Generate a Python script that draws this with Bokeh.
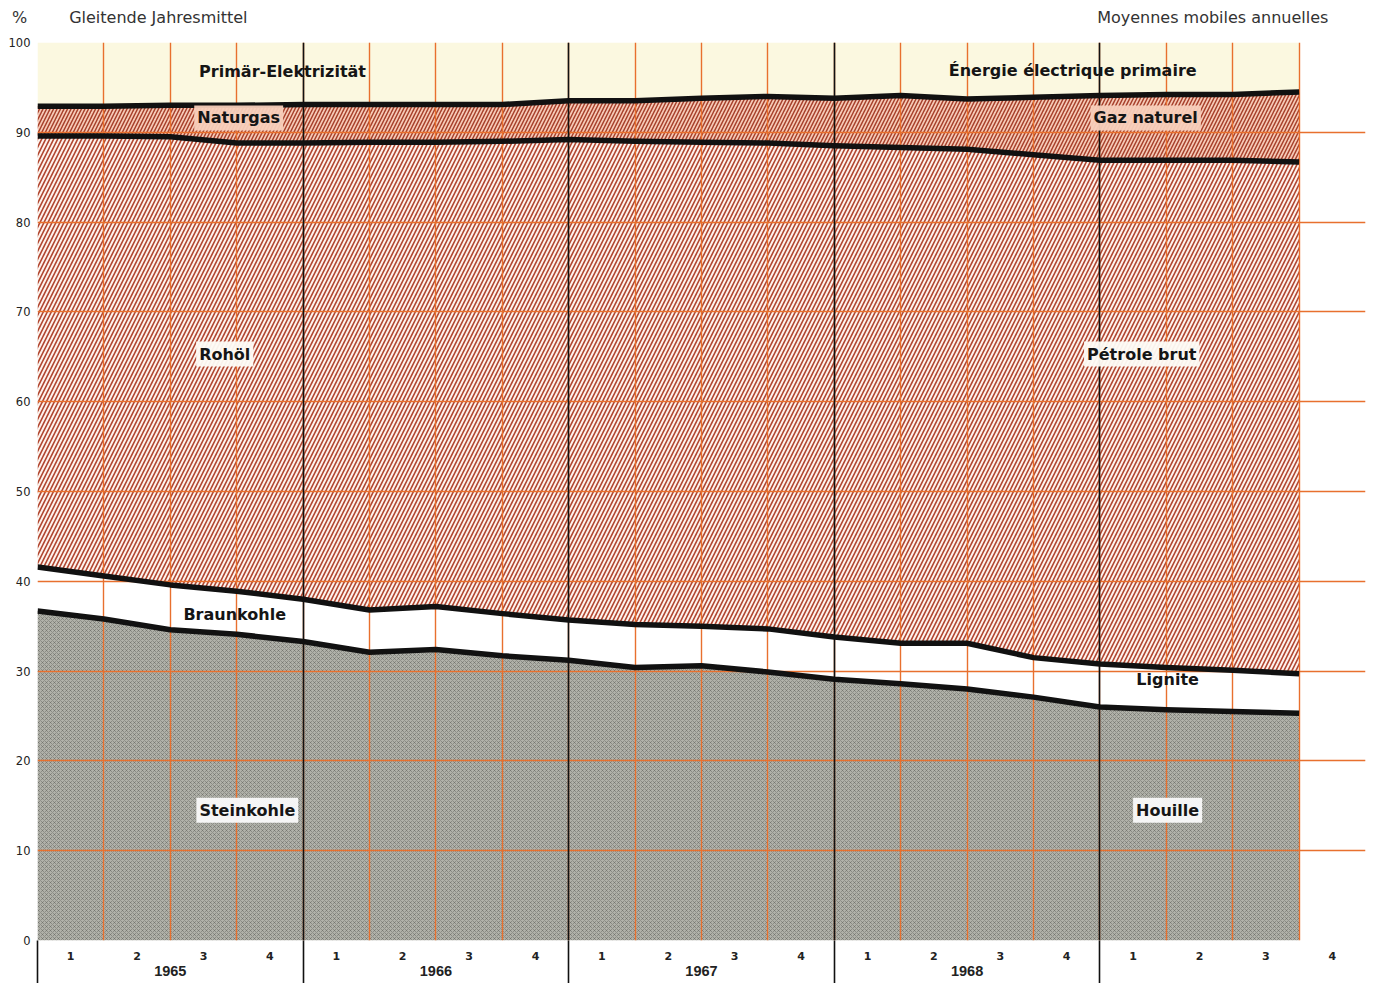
import numpy as np
from bokeh.plotting import figure
from bokeh.models import FixedTicker, LinearAxis, Grid, Label, Range1d
from bokeh.embed import file_html
from bokeh.resources import INLINE

# quarter-end points of the moving annual averages (1964 Q4 .. 1969 Q3)
periods = ["1964-4", "1965-1", "1965-2", "1965-3", "1965-4",
           "1966-1", "1966-2", "1966-3", "1966-4",
           "1967-1", "1967-2", "1967-3", "1967-4",
           "1968-1", "1968-2", "1968-3", "1968-4",
           "1969-1", "1969-2", "1969-3"]

# shares in %
steinkohle = [36.7, 35.8, 34.6, 34.1, 33.3, 32.1, 32.4, 31.7, 31.2, 30.4,
              30.6, 29.9, 29.1, 28.6, 28.0, 27.1, 26.0, 25.7, 25.5, 25.3]
braunkohle = [4.9, 4.8, 5.0, 4.8, 4.7, 4.7, 4.8, 4.7, 4.5, 4.8,
              4.4, 4.8, 4.7, 4.5, 5.1, 4.4, 4.8, 4.7, 4.6, 4.4]
rohoel = [48.0, 49.0, 49.9, 49.9, 50.8, 52.1, 51.7, 52.6, 53.5, 53.8,
          53.9, 54.1, 54.7, 55.2, 55.0, 56.0, 56.1, 56.5, 56.8, 57.0]
naturgas = [3.3, 3.3, 3.5, 4.2, 4.3, 4.2, 4.2, 4.1, 4.3, 4.5,
            4.9, 5.2, 5.3, 5.8, 5.6, 6.4, 7.2, 7.3, 7.3, 7.8]
primaer_elektrizitaet = [7.1, 7.1, 7.0, 7.0, 6.9, 6.9, 6.9, 6.9, 6.5, 6.5,
                         6.2, 6.0, 6.2, 5.9, 6.3, 6.1, 5.9, 5.8, 5.8, 5.5]

quarter_labels = ["1", "2", "3", "4"]
year_labels = ["1965", "1966", "1967", "1968"]
y_ticks = [0, 10, 20, 30, 40, 50, 60, 70, 80, 90, 100]
header_left = "Gleitende Jahresmittel"
header_right = "Moyennes mobiles annuelles"
unit_label = "%"

n_quarters = 20
x = np.arange(len(periods))
series = np.array([steinkohle, braunkohle, rohoel, naturgas, primaer_elektrizitaet])
stack = np.vstack([np.zeros(len(x)), np.cumsum(series, axis=0)])

p = figure(width=1378, height=983, x_range=Range1d(0, n_quarters), y_range=Range1d(0, 100),
           output_backend="svg", toolbar_location=None,
           x_axis_location=None, y_axis_location=None,
           min_border_left=37, min_border_right=13, min_border_top=42, min_border_bottom=43)
p.outline_line_color = None
p.background_fill_color = "white"
p.border_fill_color = "white"

# areas
styles = [
    dict(fill_color="#b0b1a9", hatch_pattern="x", hatch_scale=4, hatch_color="#4a4a46", hatch_alpha=0.45, hatch_weight=0.8),
    dict(fill_color="#ffffff"),
    dict(fill_color="#fdf2ec", hatch_pattern="/", hatch_scale=8, hatch_color="#b0442e", hatch_weight=1.6),
    dict(fill_color="#f6cbb8", hatch_pattern="/", hatch_scale=7, hatch_color="#a8412c", hatch_weight=1.5),
    dict(fill_color="#fbf8e0"),
]
for i, st in enumerate(styles):
    p.varea(x=x, y1=stack[i], y2=stack[i + 1], level="image", **st)

# grid
grid_color = "#e8702e"
xg = Grid(dimension=0, ticker=FixedTicker(ticks=list(range(n_quarters + 1))),
          grid_line_color=grid_color, grid_line_width=1.4)
yg = Grid(dimension=1, ticker=FixedTicker(ticks=y_ticks),
          grid_line_color=grid_color, grid_line_width=1.4)
year_bounds = [0, 4, 8, 12, 16]
yearg = Grid(dimension=0, ticker=FixedTicker(ticks=year_bounds),
             grid_line_color="#111111", grid_line_width=1.6)
p.add_layout(xg, "center")
p.add_layout(yg, "center")
p.add_layout(yearg, "center")

# boundary lines
for i in range(1, 5):
    p.line(x=x, y=stack[i], line_color="#111111", line_width=5.5, line_join="round")

# axes
yax = LinearAxis(ticker=FixedTicker(ticks=y_ticks), axis_line_color=None,
                 major_tick_line_color=None, minor_tick_line_color=None,
                 major_tick_out=0, major_tick_in=0,
                 major_label_text_font="DejaVu Sans", major_label_text_font_size="11.5px",
                 major_label_text_color="#222222", major_label_standoff=7)
p.add_layout(yax, "left")

q_centers = [i + 0.5 for i in range(n_quarters)]
qax = LinearAxis(ticker=FixedTicker(ticks=q_centers, minor_ticks=year_bounds),
                 axis_line_color=None, major_tick_line_color=None,
                 major_tick_out=0, major_tick_in=0,
                 minor_tick_line_color="#111111", minor_tick_line_width=1.6,
                 minor_tick_out=45, minor_tick_in=0,
                 major_label_overrides={c: quarter_labels[i % 4] for i, c in enumerate(q_centers)},
                 major_label_text_font="DejaVu Sans", major_label_text_font_size="11px",
                 major_label_text_font_style="bold", major_label_text_color="#222222",
                 major_label_standoff=-34)
p.add_layout(qax, "below")

y_centers = [2 + 4 * i for i in range(len(year_labels))]
yax2 = LinearAxis(ticker=FixedTicker(ticks=y_centers), axis_line_color=None,
                  major_tick_line_color=None, minor_tick_line_color=None,
                  major_tick_out=0, major_tick_in=0,
                  major_label_overrides={c: year_labels[i] for i, c in enumerate(y_centers)},
                  major_label_text_font="Liberation Sans", major_label_text_font_size="14.5px",
                  major_label_text_font_style="bold", major_label_text_color="#222222",
                  major_label_standoff=3)
p.add_layout(yax2, "below")

# header texts (and % sign, shifted left with no-break spaces) as an axis above
h_ticks = [0, 1.82, 17.70]
h_texts = [unit_label + "\u00a0" * 7, header_left, header_right]
hax = LinearAxis(ticker=FixedTicker(ticks=h_ticks), axis_line_color=None,
                 major_tick_line_color=None, minor_tick_line_color=None,
                 major_tick_out=0, major_tick_in=0,
                 major_label_overrides=dict(zip(h_ticks, h_texts)),
                 major_label_text_font="DejaVu Sans", major_label_text_font_size="16px",
                 major_label_text_color="#333333", major_label_standoff=16)
p.add_layout(hax, "above")

# region labels
def lab(xv, yv, text, bg=None, size="16px"):
    kw = dict(x=xv, y=yv, text=text, text_align="center", text_baseline="middle",
              text_font="DejaVu Sans", text_font_style="bold", text_font_size=size,
              text_color="#151515")
    if bg:
        kw.update(background_fill_color=bg, background_fill_alpha=0.95)
        try:
            lbl = Label(padding=3, **kw)
        except Exception:
            lbl = Label(**kw)
    else:
        lbl = Label(**kw)
    p.add_layout(lbl)

lab(3.69, 96.8, "Primär-Elektrizität")
lab(15.59, 96.9, "Énergie électrique primaire")
lab(3.03, 91.6, "Naturgas", bg="#f7cfbb")
lab(16.69, 91.6, "Gaz naturel", bg="#f7cfbb")
lab(2.82, 65.3, "Rohöl", bg="#fdfbf6")
lab(16.63, 65.3, "Pétrole brut", bg="#fdfbf6")
lab(2.97, 36.3, "Braunkohle")
lab(17.02, 29.1, "Lignite")
lab(3.16, 14.5, "Steinkohle", bg="#fafafa")
lab(17.02, 14.5, "Houille", bg="#fafafa")

open("out.html", "w").write(file_html(p, INLINE))
